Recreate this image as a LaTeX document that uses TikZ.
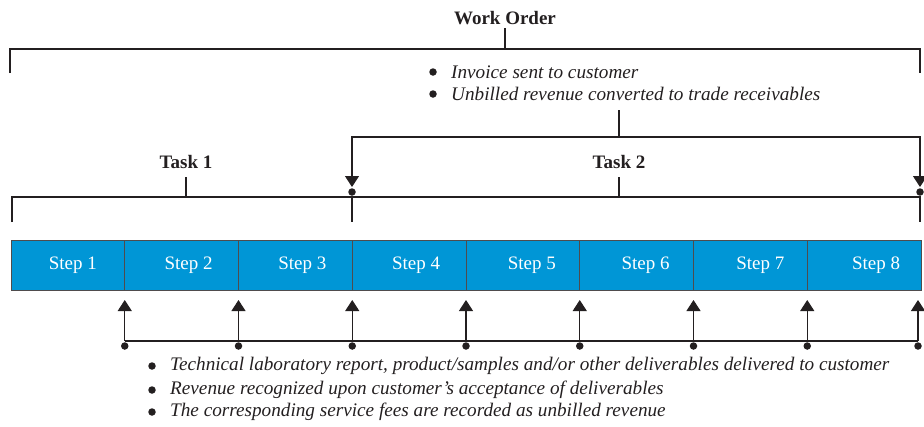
\documentclass[tikz,border=0pt]{standalone}
\usepackage{fontspec}
\setmainfont{Liberation Serif}
\usetikzlibrary{arrows.meta}
\definecolor{stepblue}{RGB}{0,150,214}
\definecolor{ink}{RGB}{35,31,32}
\begin{document}
\begin{tikzpicture}[x=1pt,y=-1pt,
  ln/.style={draw=ink,line width=1.1pt},
  tri/.style={ln,-{Triangle[length=11pt,width=14pt]}},
  dot/.style={circle,fill=ink,inner sep=0pt,minimum size=7.5pt},
  hdr/.style={font=\fontsize{19}{21}\selectfont\bfseries,text=ink,inner sep=0pt},
  itx/.style={font=\fontsize{19.2}{21}\selectfont\itshape,text=ink,inner sep=0pt,anchor=west},
  stepbox/.style={draw=ink!80,line width=0.8pt,fill=stepblue,minimum width=113.75pt,minimum height=50pt,inner sep=0pt},
  steplbl/.style={font=\fontsize{19}{21}\selectfont,text=white,inner sep=0pt}]
\useasboundingbox (0,0) rectangle (924,426);

% Work order bracket
\node[hdr] (wo) at (505,18) {Work Order};
\coordinate (woA) at (505,28);
\coordinate (woM) at (505,49);
\coordinate (woL) at (10,49);
\coordinate (woR) at (920,49);
\coordinate (woLb) at (10,73);
\coordinate (woRb) at (920,73);
\draw[ln] (woLb) -- (woL) -- (woR) -- (woRb);
\draw[ln] (woA) -- (woM);

% top bullets
\node[dot] (tb1) at (433,72) {};
\node[itx] (tt1) at (451,72) {Invoice sent to customer};
\node[dot] (tb2) at (433,94) {};
\node[itx] (tt2) at (451,94) {Unbilled revenue converted to trade receivables};

% Task 2 arrows
\coordinate (inv) at (619,110);
\coordinate (k2M) at (619,137);
\coordinate (k2L) at (352,137);
\coordinate (k2R) at (920,137);
\coordinate (aL) at (352,187);
\coordinate (aR) at (920,187);
\draw[ln] (inv) -- (k2M);
\draw[tri] (k2M) -- (k2L) -- (aL);
\draw[tri] (k2M) -- (k2R) -- (aR);
\node[dot] (dL) at (352,192) {};
\node[dot] (dR) at (920,192) {};

% Task bracket
\node[hdr] (task1) at (186,162) {Task 1};
\node[hdr] (task2) at (619,162) {Task 2};
\coordinate (t1a) at (186,177);
\coordinate (t1m) at (186,197);
\coordinate (t2a) at (619,177);
\coordinate (t2m) at (619,197);
\coordinate (tL) at (12,197);
\coordinate (tR) at (920,197);
\coordinate (tLb) at (12,222);
\coordinate (tRb) at (920,222);
\coordinate (tMb) at (352,222);
\draw[ln] (tLb) -- (tL) -- (tR) -- (tRb);
\draw[ln] (t1a) -- (t1m);
\draw[ln] (t2a) -- (t2m);
\draw[ln] (dL) -- (tMb);
\draw[ln] (dR) -- (tRb);

% Steps
\foreach \i/\dx in {1/5,2/7,3/7,4/7,5/9,6/9,7/10,8/12} {
  \node[stepbox] (s\i) at ({11+113.75*(\i-0.5)},265) {};
  \node[steplbl] (l\i) at ([xshift=\dx pt]s\i.center) {Step \i};
}

% bottom arrows
\foreach \i/\x in {1/124.75,2/238.5,3/352.25,4/466,5/579.75,6/693.5,7/807.25,8/918} {
  \coordinate (bb\i) at (\x,341);
  \coordinate (ba\i) at (\x,300);
  \draw[tri] (bb\i) -- (ba\i);
  \node[dot] (bd\i) at (\x,346) {};
}
\draw[ln] (bb1) -- (bb8);

% bottom bullets
\node[dot] (bb1x) at (152,366) {};
\node[itx] (bt1) at (170,366) {Technical laboratory report, product/samples and/or other deliverables delivered to customer};
\node[dot] (bb2x) at (152,390) {};
\node[itx] (bt2) at (170,390) {Revenue recognized upon customer’s acceptance of deliverables};
\node[dot] (bb3x) at (152,412) {};
\node[itx] (bt3) at (170,412) {The corresponding service fees are recorded as unbilled revenue};
\end{tikzpicture}
\end{document}
